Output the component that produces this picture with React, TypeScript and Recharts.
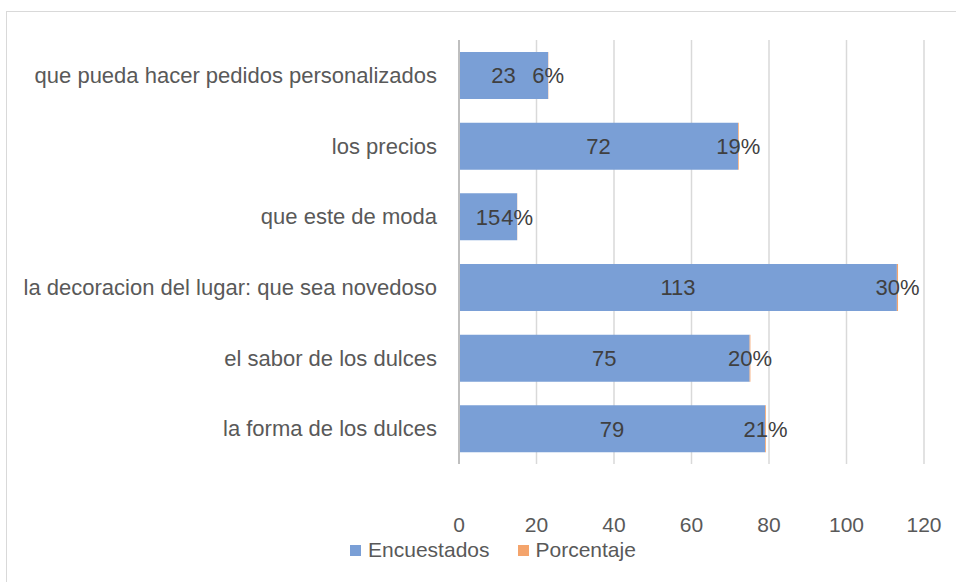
import React from 'react';
import { BarChart, Bar, XAxis, YAxis, CartesianGrid, LabelList, Legend } from 'recharts';

const categories = [
  'que pueda hacer pedidos personalizados',
  'los precios',
  'que este de moda',
  'la decoracion del lugar: que sea novedoso',
  'el sabor de los dulces',
  'la forma de los dulces',
];
const encuestados = [23, 72, 15, 113, 75, 79];
const porcentaje = [0.06, 0.19, 0.04, 0.3, 0.2, 0.21];
const xTicks = [0, 20, 40, 60, 80, 100, 120];

const data = categories.map((c, i) => ({ name: c, Encuestados: encuestados[i], Porcentaje: porcentaje[i] }));

const FONT = '"Liberation Sans", Arial, sans-serif';
const BLUE = '#7A9FD6';
const ORANGE = '#F4A46C';
const TEXT = '#595959';

const renderLegend = () => (
  <div style={{ display: 'flex', justifyContent: 'center', fontFamily: FONT, fontSize: 21, color: TEXT, paddingLeft: 30, height: 26, lineHeight: '26px' }}>
    <span style={{ display: 'flex', alignItems: 'center', marginRight: 28 }}>
      <span style={{ width: 11, height: 11, background: BLUE, display: 'inline-block', marginRight: 7 }} />
      Encuestados
    </span>
    <span style={{ display: 'flex', alignItems: 'center' }}>
      <span style={{ width: 11, height: 11, background: ORANGE, display: 'inline-block', marginRight: 7 }} />
      Porcentaje
    </span>
  </div>
);

export default function App() {
  return (
    <div style={{ position: 'absolute', left: 0, top: 0, width: 956, height: 582, background: '#fff' }}>
      <div style={{ position: 'absolute', left: 6, top: 11, width: 960, height: 580, border: '1px solid #d9d9d9', boxSizing: 'border-box' }} />
      <BarChart
        width={956}
        height={582}
        data={data}
        layout="vertical"
        margin={{ top: 40, right: 32, left: 0, bottom: 20 }}
      >
        <CartesianGrid horizontal={false} stroke="#d9d9d9" strokeWidth={1.5} />
        <XAxis
          type="number"
          domain={[0, 120]}
          ticks={xTicks}
          axisLine={false}
          tickLine={false}
          tick={{ fill: TEXT, fontSize: 21, fontFamily: FONT }}
          tickMargin={47}
          height={72}
          interval={0}
        />
        <YAxis
          type="category"
          dataKey="name"
          width={459}
          axisLine={{ stroke: '#bfbfbf', strokeWidth: 2 }}
          tickLine={false}
          tick={{ fill: TEXT, fontSize: 22, fontFamily: FONT }}
          tickMargin={16}
          interval={0}
        />
        <Legend content={renderLegend} wrapperStyle={{ top: 537, left: 0, width: 956 }} />
        <Bar dataKey="Encuestados" stackId="a" fill={BLUE} barSize={47} isAnimationActive={false}>
          <LabelList dataKey="Encuestados" position="center" fill="#404040" fontSize={22} fontFamily={FONT} />
        </Bar>
        <Bar dataKey="Porcentaje" stackId="a" fill={ORANGE} barSize={47} isAnimationActive={false}>
          <LabelList
            dataKey="Porcentaje"
            position="center"
            fill="#404040"
            fontSize={22}
            fontFamily={FONT}
            formatter={(v: any) => `${Math.round(Number(v) * 100)}%`}
          />
        </Bar>
      </BarChart>
    </div>
  );
}
